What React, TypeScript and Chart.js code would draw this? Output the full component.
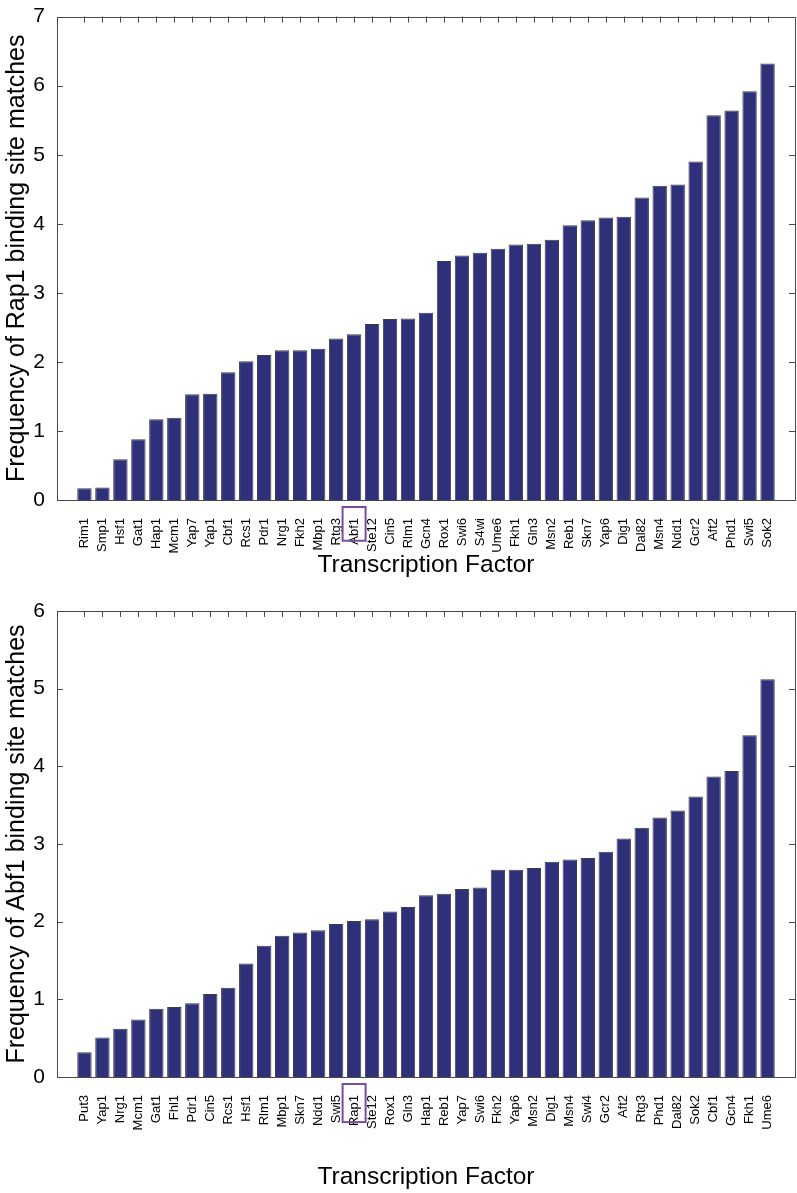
import React, { useEffect, useRef } from 'react';
import { Chart, registerables } from 'chart.js';

Chart.register(...registerables);

// ---------- data ----------
const rap1Factors = [
  'Rim1', 'Smp1', 'Hsf1', 'Gat1', 'Hap1', 'Mcm1', 'Yap7', 'Yap1', 'Cbf1', 'Rcs1',
  'Pdr1', 'Nrg1', 'Fkh2', 'Mbp1', 'Rtg3', 'Abf1', 'Ste12', 'Cin5', 'Rlm1', 'Gcn4',
  'Rox1', 'Swi6', 'S4wi', 'Ume6', 'Fkh1', 'Gln3', 'Msn2', 'Reb1', 'Skn7', 'Yap6',
  'Dig1', 'Dal82', 'Msn4', 'Ndd1', 'Gcr2', 'Aft2', 'Phd1', 'Swi5', 'Sok2',
];
const rap1Values = [
  0.17, 0.18, 0.59, 0.88, 1.17, 1.19, 1.53, 1.54, 1.85, 2.01,
  2.10, 2.17, 2.17, 2.19, 2.34, 2.40, 2.55, 2.62, 2.63, 2.71,
  3.46, 3.54, 3.58, 3.64, 3.70, 3.71, 3.77, 3.98, 4.05, 4.09,
  4.10, 4.38, 4.55, 4.57, 4.90, 5.57, 5.64, 5.92, 6.32,
];
const rap1Highlight = 'Abf1';
const rap1YMax = 7;
const rap1YTitle = 'Frequency of Rap1 binding site matches';

const abf1Factors = [
  'Put3', 'Yap1', 'Nrg1', 'Mcm1', 'Gat1', 'Fhl1', 'Pdr1', 'Cin5', 'Rcs1', 'Hsf1',
  'Rlm1', 'Mbp1', 'Skn7', 'Ndd1', 'Swi5', 'Rap1', 'Ste12', 'Rox1', 'Gln3', 'Hap1',
  'Reb1', 'Yap7', 'Swi6', 'Fkh2', 'Yap6', 'Msn2', 'Dig1', 'Msn4', 'Swi4', 'Gcr2',
  'Aft2', 'Rtg3', 'Phd1', 'Dal82', 'Sok2', 'Cbf1', 'Gcn4', 'Fkh1', 'Ume6',
];
const abf1Values = [
  0.32, 0.51, 0.62, 0.74, 0.88, 0.90, 0.95, 1.07, 1.15, 1.46,
  1.69, 1.82, 1.86, 1.89, 1.97, 2.01, 2.03, 2.13, 2.19, 2.34,
  2.36, 2.42, 2.44, 2.67, 2.67, 2.69, 2.77, 2.80, 2.82, 2.90,
  3.07, 3.21, 3.34, 3.43, 3.61, 3.87, 3.94, 4.40, 5.12,
];
const abf1Highlight = 'Rap1';
const abf1YMax = 6;
const abf1YTitle = 'Frequency of Abf1 binding site matches';

const xAxisTitle = 'Transcription Factor';

// ---------- styles ----------
const FONT = '"Liberation Sans", Arial, Helvetica, sans-serif';
const BAR_COLOR = '#2E3179';
const BAR_EDGE = '#3c3c4a';
const FRAME = '#4a4a4a';
const HIGHLIGHT = '#7A4B9E';
const LABEL_PAD = 10;
const LABEL_SIZE = 13;

const matlabFrame = {
  id: 'matlabFrame',
  afterDatasetsDraw(chart: any, _args: any, opts: any) {
    const { ctx, chartArea: a, scales } = chart;
    const x = scales.x;
    const y = scales.y;
    ctx.save();
    ctx.strokeStyle = FRAME;
    ctx.lineWidth = 1;
    ctx.beginPath();
    for (let i = 1; i <= opts.factors.length; i++) {
      const px = Math.round(x.getPixelForValue(i)) + 0.5;
      ctx.moveTo(px, a.top);
      ctx.lineTo(px, a.top + 6);
    }
    y.ticks.forEach((t: any) => {
      const py = Math.round(y.getPixelForValue(t.value)) + 0.5;
      ctx.moveTo(a.left, py);
      ctx.lineTo(a.left + 6, py);
      ctx.moveTo(a.right, py);
      ctx.lineTo(a.right - 6, py);
    });
    ctx.stroke();
    ctx.strokeRect(
      Math.round(a.left) + 0.5,
      Math.round(a.top) + 0.5,
      Math.round(a.right - a.left),
      Math.round(a.bottom - a.top)
    );
    const idx = opts.factors.indexOf(opts.highlight);
    if (idx >= 0) {
      ctx.font = `${LABEL_SIZE}px ${FONT}`;
      const w = ctx.measureText(opts.highlight).width;
      const cx = x.getPixelForValue(idx + 1);
      ctx.strokeStyle = HIGHLIGHT;
      ctx.lineWidth = 2;
      ctx.strokeRect(cx - 11.5, a.bottom + LABEL_PAD - 3, 23, w + 7);
    }
    ctx.restore();
  },
};

type PanelProps = {
  factors: string[];
  values: number[];
  yMax: number;
  yTitle: string;
  highlight: string;
  top: number;
  height: number;
  padTop: number;
  plotBottom: number;
  titlePadBottom: number;
};

function BarPanel(p: PanelProps) {
  const ref = useRef<HTMLCanvasElement | null>(null);
  useEffect(() => {
    if (!ref.current) return;
    const xAxisHeight = p.height - p.plotBottom;
    const chart = new Chart(ref.current, {
      type: 'bar',
      data: {
        datasets: [
          {
            data: p.values.map((v, i) => ({ x: i + 1, y: v })),
            backgroundColor: BAR_COLOR,
            borderColor: BAR_EDGE,
            borderWidth: 1,
            barPercentage: 0.8,
            categoryPercentage: 1,
          },
        ],
      },
      options: {
        responsive: false,
        animation: false,
        events: [],
        layout: { autoPadding: false, padding: { top: p.padTop, right: 2, left: 0, bottom: 0 } },
        plugins: {
          legend: { display: false },
          tooltip: { enabled: false },
          matlabFrame: { factors: p.factors, highlight: p.highlight },
        } as any,
        scales: {
          x: {
            type: 'linear',
            min: 0,
            max: p.factors.length + 1,
            grid: { display: false },
            border: { display: false },
            afterBuildTicks: (s: any) => {
              s.ticks = p.factors.map((_, i) => ({ value: i + 1 }));
            },
            afterFit: (s: any) => {
              s.height = xAxisHeight;
            },
            ticks: {
              autoSkip: false,
              maxRotation: 90,
              minRotation: 90,
              padding: LABEL_PAD,
              color: '#000',
              font: { size: LABEL_SIZE, family: FONT },
              callback: (v: any) => p.factors[Number(v) - 1] ?? '',
            },
            title: {
              display: true,
              text: xAxisTitle,
              color: '#000',
              font: { size: 24.5, family: FONT },
              padding: { top: 0, bottom: p.titlePadBottom },
            },
          },
          y: {
            min: 0,
            max: p.yMax,
            grid: { display: false },
            border: { display: false },
            afterFit: (s: any) => {
              s.width = 57;
            },
            ticks: {
              stepSize: 1,
              padding: 4,
              color: '#000',
              font: { size: 21, family: FONT },
            },
            title: {
              display: true,
              text: p.yTitle,
              color: '#000',
              font: { size: 25, family: FONT },
              padding: { top: 2, bottom: 0 },
            },
          },
        },
      } as any,
      plugins: [matlabFrame as any],
    });
    return () => chart.destroy();
  }, []);
  return (
    <canvas
      ref={ref}
      width={797}
      height={p.height}
      style={{ position: 'absolute', left: 0, top: p.top, width: 797, height: p.height }}
    />
  );
}

export default function App() {
  return (
    <div style={{ position: 'absolute', left: 0, top: 0, width: 797, height: 1193, background: '#fff' }}>
      <BarPanel
        factors={rap1Factors}
        values={rap1Values}
        yMax={rap1YMax}
        yTitle={rap1YTitle}
        highlight={rap1Highlight}
        top={0}
        height={590}
        padTop={7}
        plotBottom={500}
        titlePadBottom={10}
      />
      <BarPanel
        factors={abf1Factors}
        values={abf1Values}
        yMax={abf1YMax}
        yTitle={abf1YTitle}
        highlight={abf1Highlight}
        top={590}
        height={603}
        padTop={21}
        plotBottom={487}
        titlePadBottom={1}
      />
    </div>
  );
}
